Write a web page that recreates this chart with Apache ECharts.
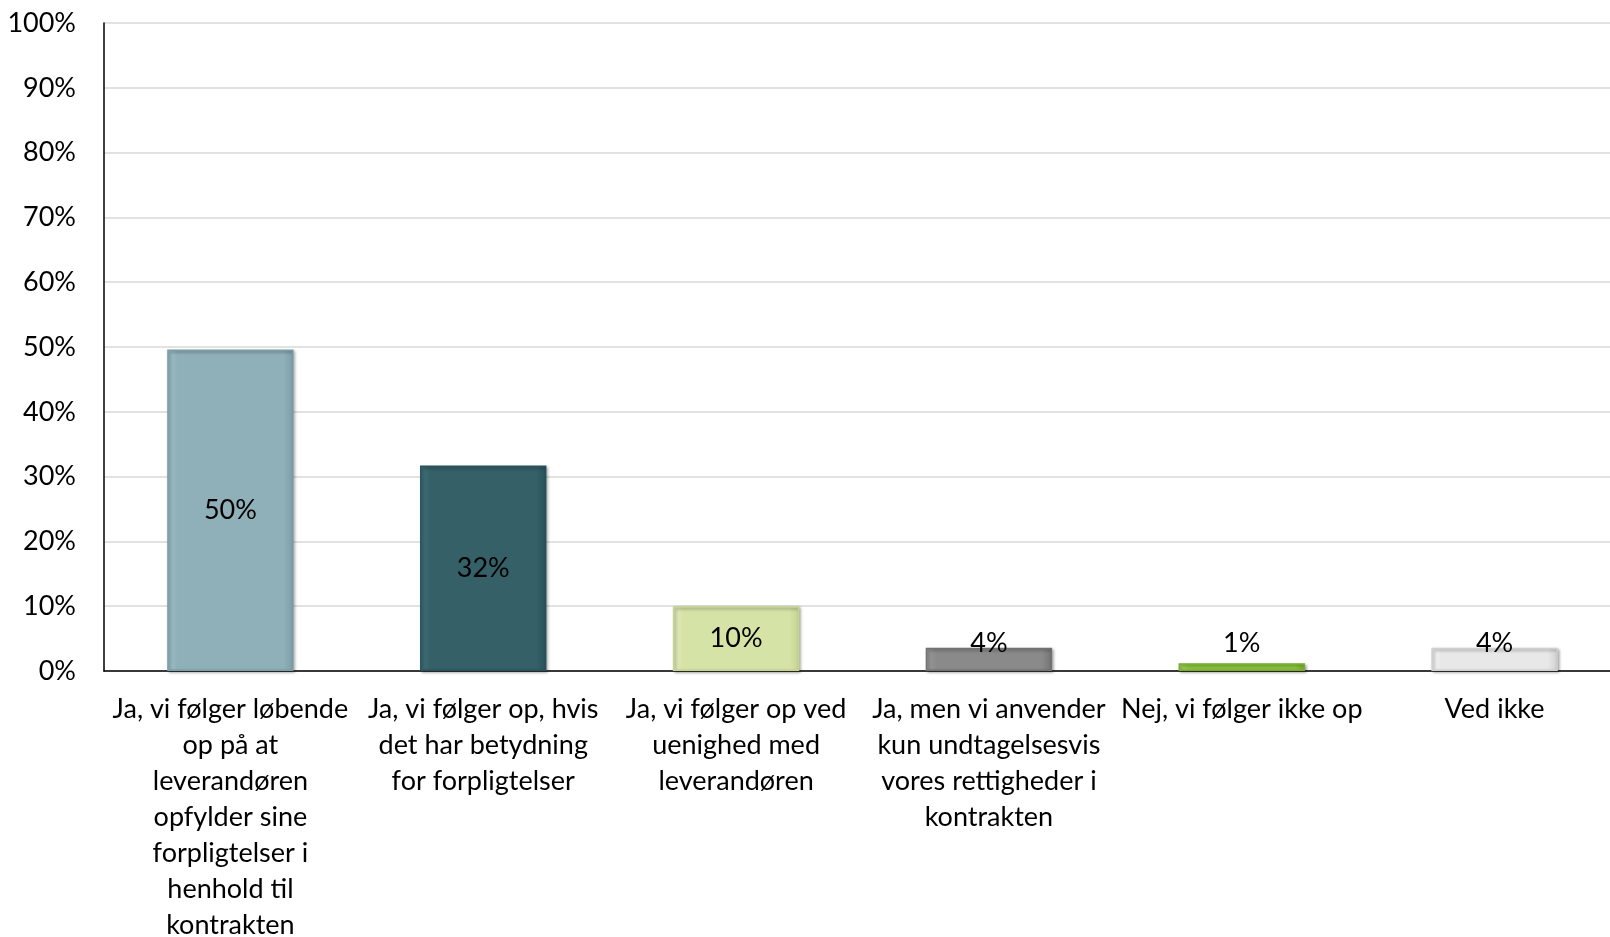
<!DOCTYPE html>
<html>
<head>
<meta charset="utf-8">
<script src="https://cdn.jsdelivr.net/npm/echarts@6/dist/echarts.min.js"></script>
<style>
  html, body { margin: 0; padding: 0; background: #fff; }
  #chart { width: 1610px; height: 937px; }
</style>
</head>
<body>
<div id="chart"></div>
<script>
// survey answers, share of respondents (%)
// category labels keep the line breaks of the original chart
const categories = [
  'Ja, vi følger løbende\nop på at\nleverandøren\nopfylder sine\nforpligtelser i\nhenhold til\nkontrakten',
  'Ja, vi følger op, hvis\ndet har betydning\nfor forpligtelser',
  'Ja, vi følger op ved\nuenighed med\nleverandøren',
  'Ja, men vi anvender\nkun undtagelsesvis\nvores rettigheder i\nkontrakten',
  'Nej, vi følger ikke op',
  'Ved ikke'
];
const shares = [49.6, 31.7, 10.0, 3.6, 1.2, 3.6];
const barColors = [
  ['#a2c1c9', '#8fb0b9', '#7b9ea8'],
  ['#44727b', '#356068', '#29525b'],
  ['#e3edc0', '#d6e3a6', '#c4d491'],
  ['#9e9e9e', '#8a8a8a', '#727272'],
  ['#a8d866', '#8dc63f', '#78ad30'],
  ['#f5f5f5', '#e8e8e8', '#d0d0d0']
];
const yTicks = [0, 10, 20, 30, 40, 50, 60, 70, 80, 90, 100];

const FONT = 'Lato, "Open Sans", sans-serif';

const chart = echarts.init(document.getElementById('chart'));

const seriesData = shares.map((v, i) => ({
  value: v,
  itemStyle: {
    color: new echarts.graphic.LinearGradient(0, 0, 1, 0, [
      { offset: 0, color: barColors[i][0] },
      { offset: 0.08, color: barColors[i][1] },
      { offset: 0.92, color: barColors[i][1] },
      { offset: 1, color: barColors[i][2] }
    ]),
    borderColor: barColors[i][2],
    borderWidth: 1.5,
    shadowColor: 'rgba(0,0,0,0.35)',
    shadowBlur: 3,
    shadowOffsetX: 1.5,
    shadowOffsetY: 1.5
  },
  label: v < 5 ? { position: 'insideBottom', distance: 14 } : { position: 'inside' }
}));

chart.setOption({
  animation: false,
  grid: { left: 104, right: -11, top: 23, bottom: 266, outerBoundsMode: 'none' },
  xAxis: {
    type: 'category',
    data: categories,
    axisLine: { show: true, lineStyle: { color: '#000', width: 1.5 } },
    axisTick: { show: false },
    axisLabel: {
      interval: 0,
      color: '#000',
      fontFamily: FONT,
      fontSize: 27,
      lineHeight: 36,
      margin: 20,
      align: 'center'
    }
  },
  yAxis: {
    type: 'value',
    min: yTicks[0],
    max: yTicks[yTicks.length - 1],
    interval: 10,
    axisLine: { show: true, lineStyle: { color: '#000', width: 1.5 } },
    axisTick: { show: false },
    splitLine: { lineStyle: { color: '#d9d9d9', width: 1.5 } },
    axisLabel: {
      color: '#000',
      fontFamily: FONT,
      fontSize: 27,
      margin: 28,
      formatter: v => v + '%'
    }
  },
  series: [{
    type: 'bar',
    barWidth: '50%',
    data: seriesData,
    label: {
      show: true,
      color: '#000',
      fontFamily: FONT,
      fontSize: 27,
      formatter: p => Math.round(p.value) + '%'
    }
  }]
});
</script>
</body>
</html>
